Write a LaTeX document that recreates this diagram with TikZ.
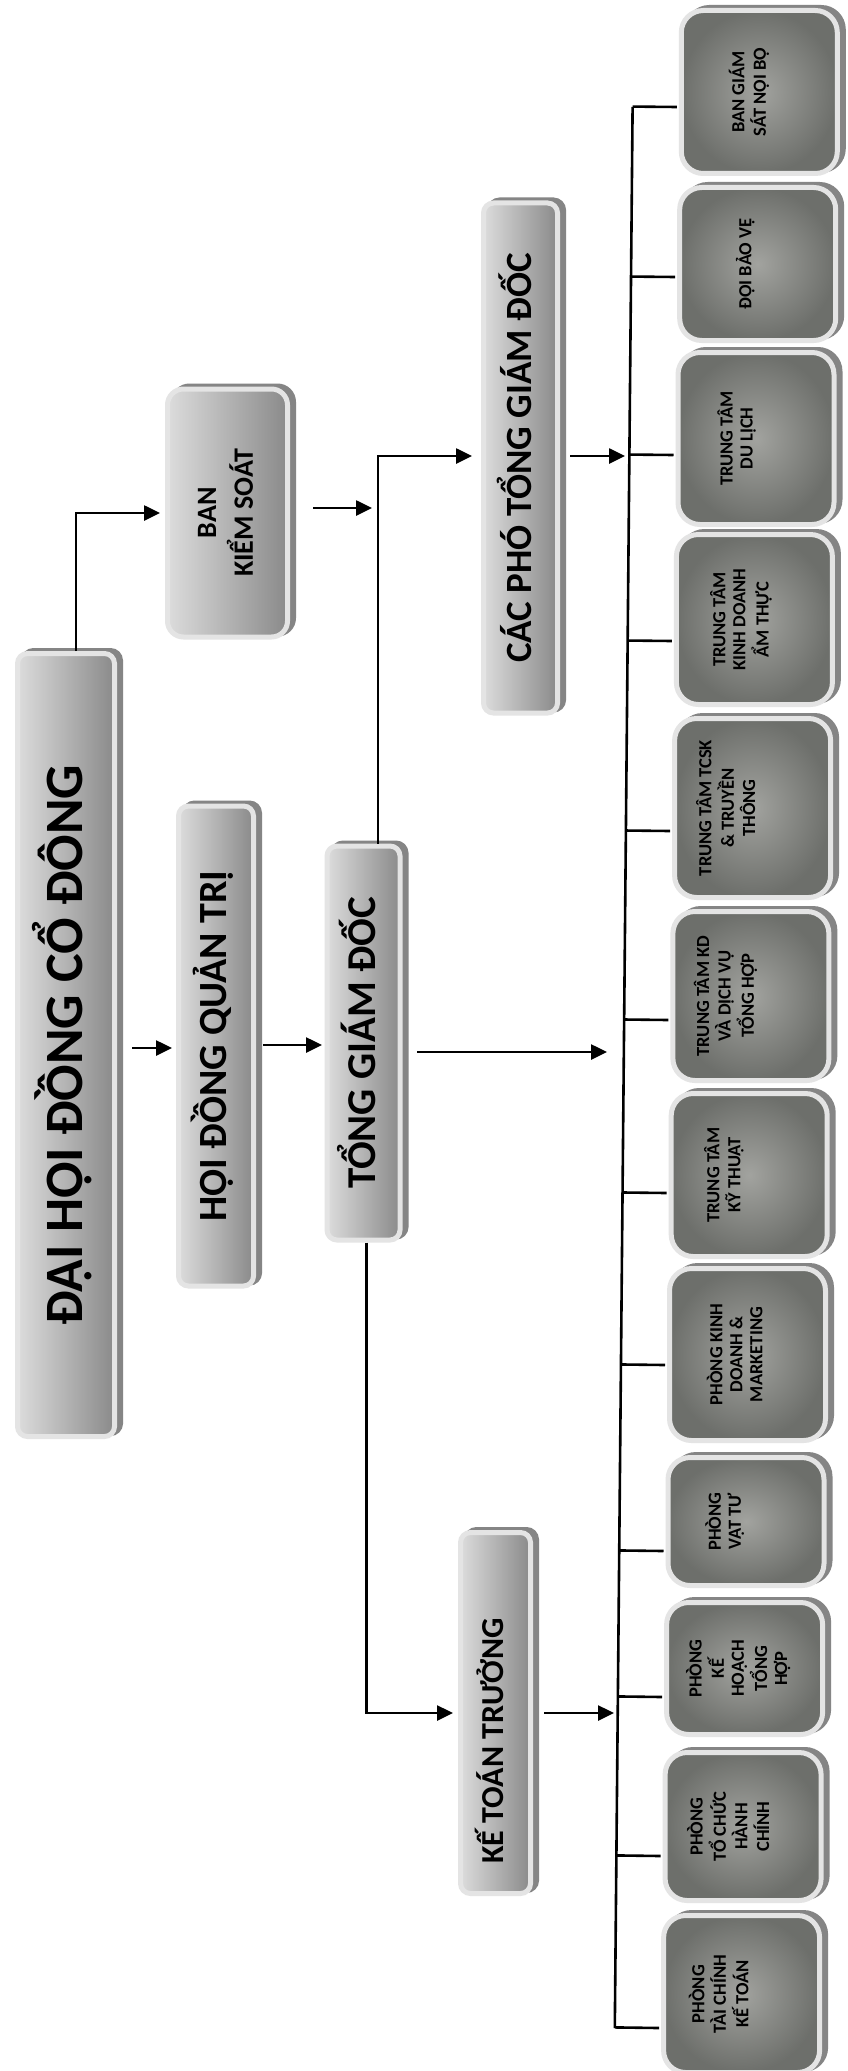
\documentclass[tikz,border=0pt]{standalone}
\usepackage{fontspec}
\setmainfont{Carlito}
\usetikzlibrary{arrows.meta,calc}
\definecolor{rimc}{HTML}{E4E4E4}
\definecolor{shdc}{HTML}{858585}
\definecolor{mainL}{HTML}{DCDCDC}
\definecolor{mainR}{HTML}{8A8A8A}
\definecolor{rIn}{HTML}{A2A39F}
\definecolor{rOut}{HTML}{6D6F6B}
\newcommand\vtext[2][0pt]{\rotatebox{90}{\begin{tabular}{@{}c@{}}#2\end{tabular}}\hspace*{#1}}
\tikzset{
 shadowed/.style={preaction={fill=shdc, draw=shdc, line width=5pt, transform canvas={xshift=6pt, yshift=3pt}}},
 mbox/.style={shadowed, draw=rimc, line width=5pt, rounded corners=10pt, left color=mainL, right color=mainR, inner sep=0pt, text=black},
 rbox/.style={shadowed, draw=rimc, line width=5pt, rounded corners=22pt, inner color=rIn, outer color=rOut, inner sep=0pt, minimum width=156pt, text=black, font=\fontsize{18.5}{20}\selectfont\bfseries},
 conn/.style={line width=2.6pt, draw=black},
 arr/.style={conn, -{Triangle[length=16pt,width=15pt]}},
}
\begin{document}
\begin{tikzpicture}[x=1pt,y=-1pt]
\fill[white] (0,0) rectangle (848,2071);
\useasboundingbox (0,0) rectangle (848,2071);

% main column boxes
\node[mbox, minimum width=97pt, minimum height=783pt, font=\fontsize{54}{60}\selectfont\bfseries] (dhdcd) at (66,1045) {\vtext{ĐẠI HỘI ĐỒNG CỔ ĐÔNG}};
\node[mbox, minimum width=75pt, minimum height=480pt, font=\fontsize{40}{46}\selectfont\bfseries] (hdqt) at (216,1046) {\vtext{HỘI ĐỒNG QUẢN TRỊ}};
\node[mbox, minimum width=73pt, minimum height=394pt, font=\fontsize{41}{46}\selectfont\bfseries] (tgd) at (363.5,1043) {\vtext{TỔNG GIÁM ĐỐC}};
\node[mbox, rounded corners=16pt, minimum width=120pt, minimum height=248pt, font=\fontsize{28}{35}\selectfont\bfseries] (bks) at (227.5,513) {\vtext{BAN\\KIỂM SOÁT}};
\node[mbox, minimum width=74pt, minimum height=510pt, font=\fontsize{37}{42}\selectfont\bfseries] (cptgd) at (520.5,458) {\vtext{CÁC PHÓ TỔNG GIÁM ĐỐC}};
\node[mbox, minimum width=70pt, minimum height=361pt, font=\fontsize{32}{38}\selectfont\bfseries] (ktt) at (495.5,1713) {\vtext{KẾ TOÁN TRƯỞNG\hspace*{56pt}}};

% right column boxes
\node[rbox, minimum height=163pt] (b1) at (759.3,92) {\vtext[18pt]{BAN GIÁM\\SÁT NỘI BỘ}};
\node[rbox, minimum height=153pt] (b2) at (757.7,264) {\vtext[22pt]{ĐỘI BẢO VỆ}};
\node[rbox, minimum height=172pt] (b3) at (756.0,438.5) {\vtext[36pt]{TRUNG TÂM\\DU LỊCH}};
\node[rbox, minimum height=170pt] (b4) at (754.4,619.5) {\vtext[24pt]{TRUNG TÂM\\KINH DOANH\\ẨM THỰC}};
\node[rbox, minimum height=179pt] (b5) at (752.6,808) {\vtext[48pt]{TRUNG TÂM TCSK\\\& TRUYỀN\\THÔNG}};
\node[rbox, minimum height=169pt] (b6) at (750.9,996) {\vtext[48pt]{TRUNG TÂM KD\\VÀ DỊCH VỤ\\TỔNG HỢP}};
\node[rbox, minimum height=163pt] (b7) at (749.2,1175) {\vtext[48pt]{TRUNG TÂM\\KỸ THUẬT}};
\node[rbox, minimum height=172pt] (b8) at (747.5,1354.5) {\vtext[20pt]{PHÒNG KINH\\DOANH \&\\MARKETING}};
\node[rbox, minimum height=128pt] (b9) at (746.0,1521.5) {\vtext[40pt]{PHÒNG\\VẬT TƯ}};
\node[rbox, minimum height=132pt] (b10) at (744.6,1668.5) {\vtext[10pt]{PHÒNG\\KẾ\\HOẠCH\\TỔNG\\HỢP}};
\node[rbox, minimum height=148pt] (b11) at (743.1,1826.5) {\vtext[24pt]{PHÒNG\\TỔ CHỨC\\HÀNH\\CHÍNH}};
\node[rbox, minimum height=157pt] (b12) at (741.6,1994) {\vtext[40pt]{PHÒNG\\TÀI CHÍNH\\KẾ TOÁN}};

% free ends
\coordinate (vtip) at (372,508);
\coordinate (inT) at (607,1052);
\coordinate (inK) at (614,1713);
\coordinate (inC) at (625,456);
\coordinate (busTop) at (632.6,107);
\coordinate (busBot) at (614.8,2028);

% connectors
\draw[arr] ($(dhdcd.north)+(10,0)$) |- ($(bks.west)+(-5,0)$);
\draw[arr] ($(bks.east)+(23,-5)$) -- (vtip);
\draw[arr] ($(tgd.north)+(14.5,0)$) |- ($(cptgd.west)+(-9,-2)$);
\draw[arr] ($(tgd.south)+(3,0)$) |- ($(ktt.west)+(-5,0)$);
\draw[arr] ($(dhdcd.east)+(15,3)$) -- ($(hdqt.west)+(-4,2)$);
\draw[arr] ($(hdqt.east)+(7,-1)$) -- ($(tgd.west)+(-2.5,2)$);
\draw[arr] ($(tgd.east)+(14.5,9)$) -- (inT);
\draw[arr] ($(ktt.east)+(11,0)$) -- (inK);
\draw[arr] ($(cptgd.east)+(10,-2)$) -- (inC);

% bus and stubs
\draw[conn] (busTop) -- (busBot);
\foreach \i/\d in {1/15,2/13,3/16.5,4/21.5,5/23,6/24,7/18,8/10.5,9/29.5,10/28.5,11/29.5,12/34} {
  \path ($(b\i.west)+(-2,\d)$) coordinate (s\i);
  \draw[conn] (s\i) -- ($(busTop)!(s\i)!(busBot)$);
}
\end{tikzpicture}
\end{document}
